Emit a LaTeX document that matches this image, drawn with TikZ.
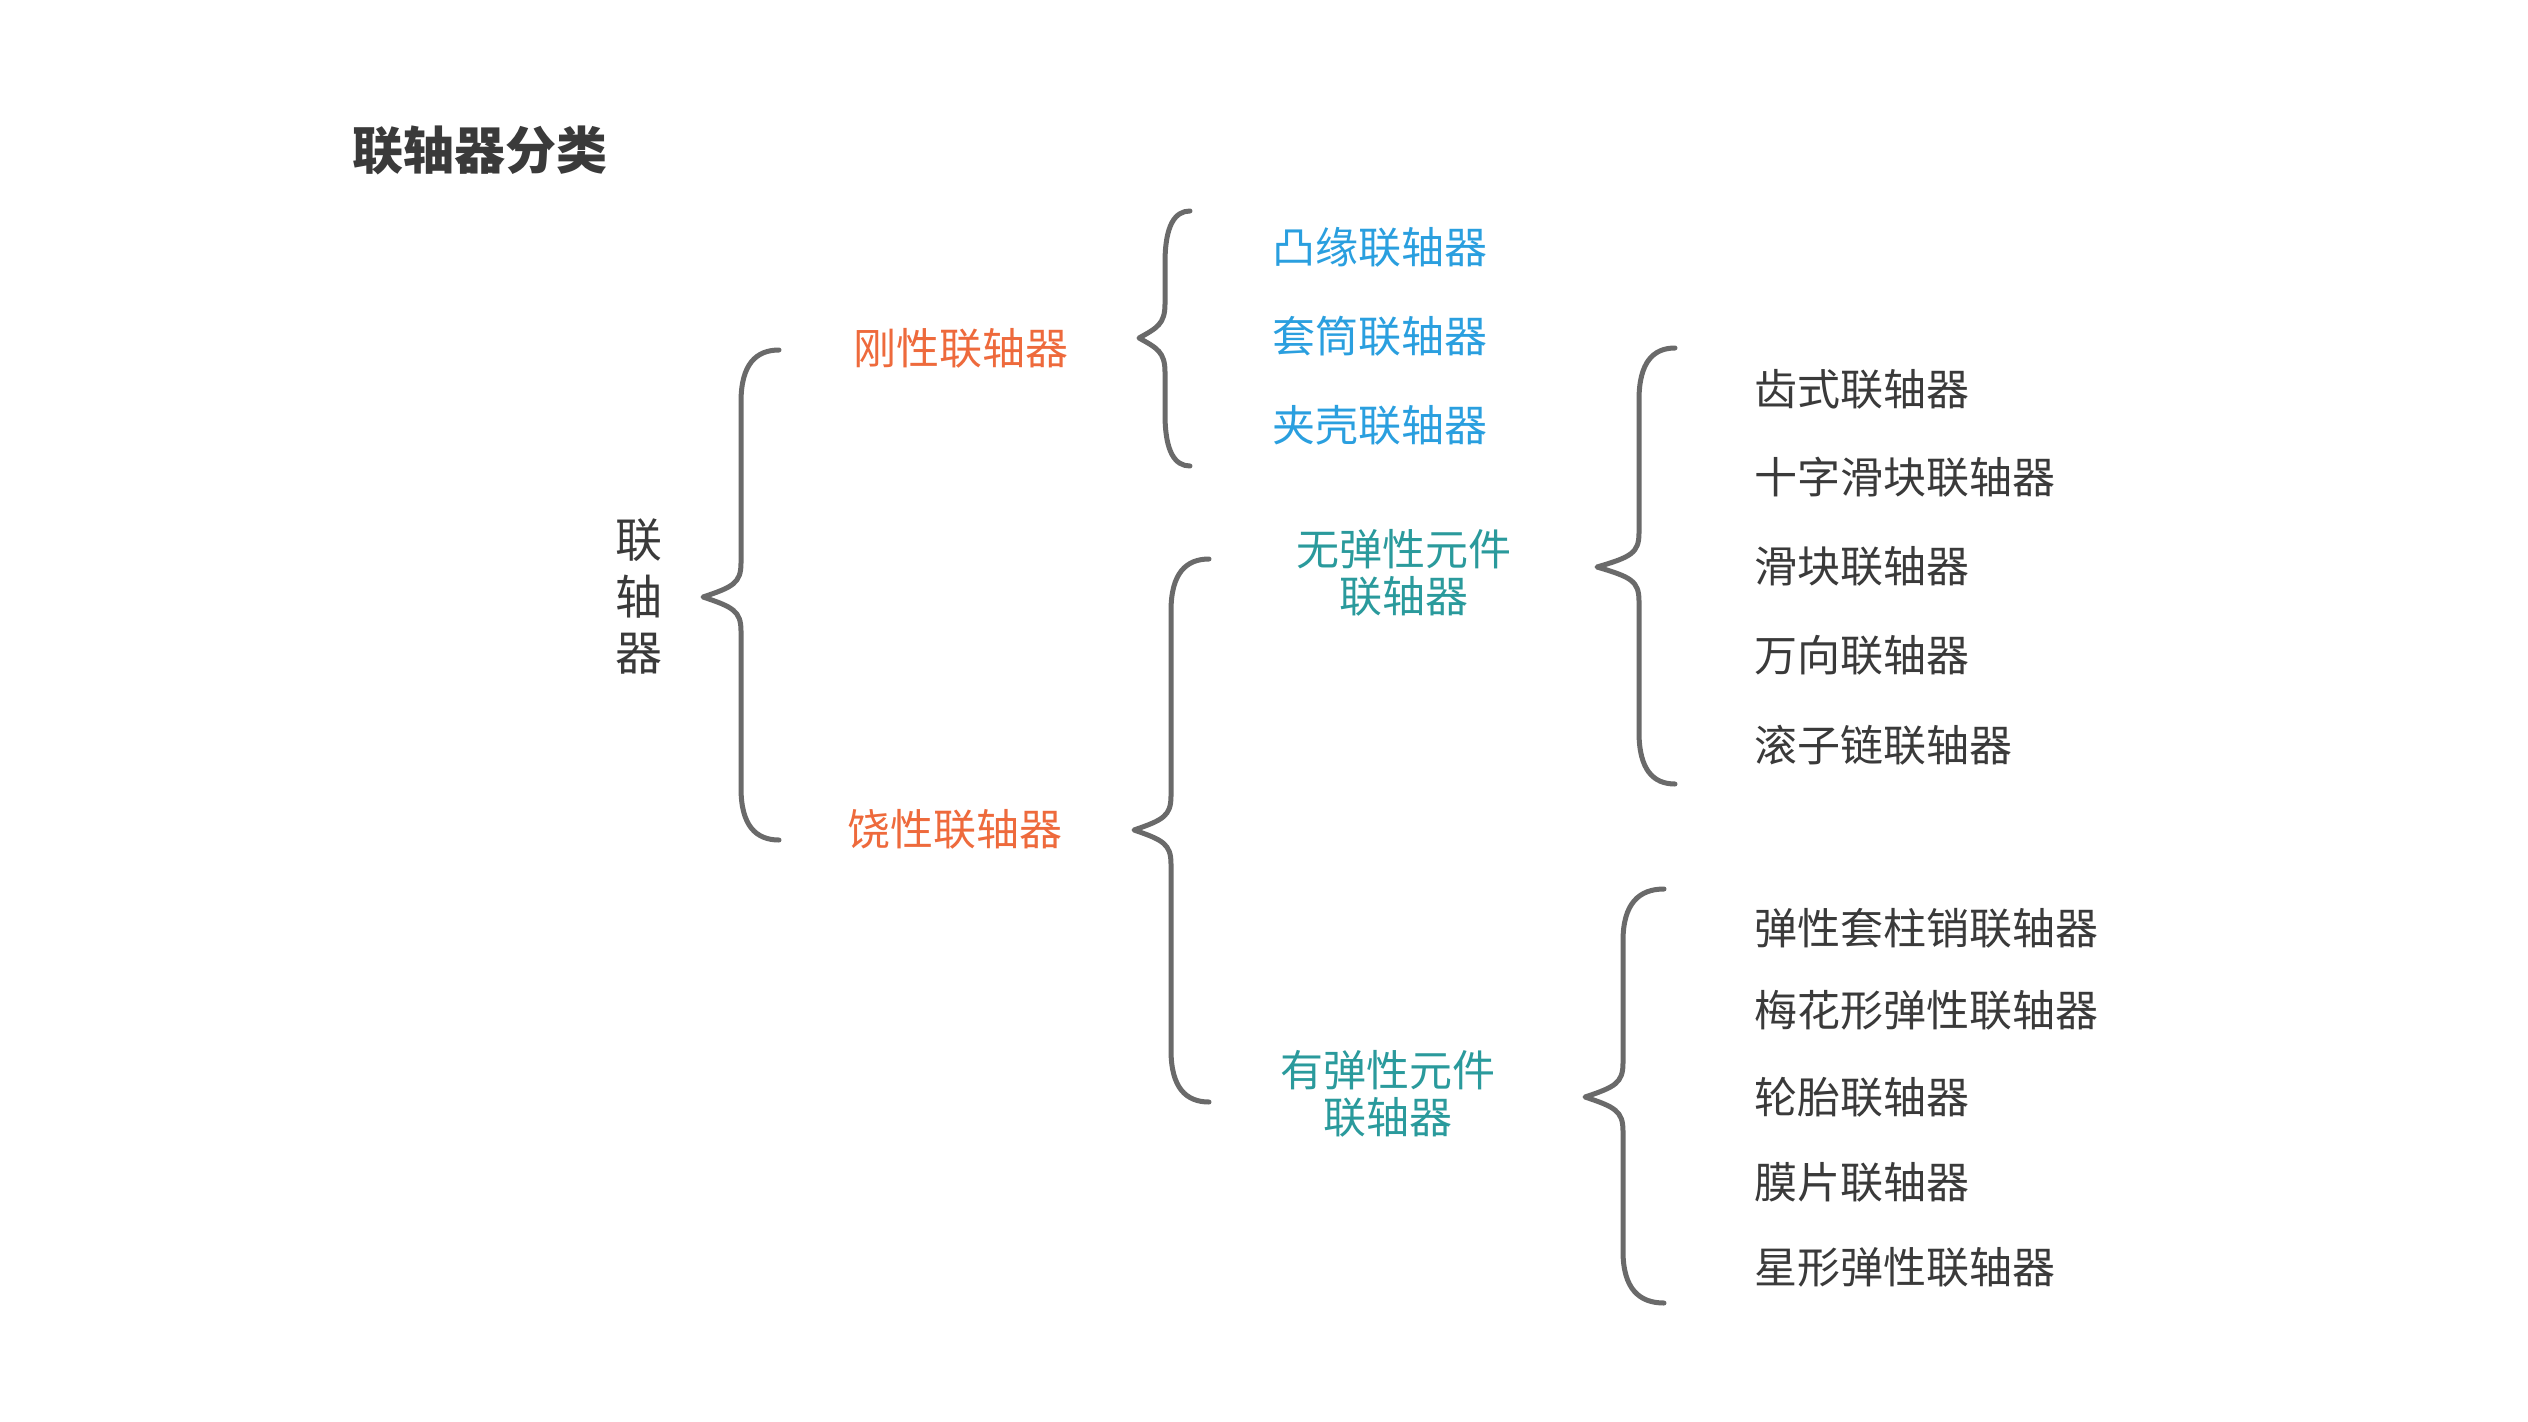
\documentclass[tikz,border=0pt]{standalone}
\usepackage{fontspec}
\setmainfont{Noto Sans CJK SC}
\definecolor{txtdark}{HTML}{3A3A3A}
\definecolor{rigidc}{HTML}{EE6A3C}
\definecolor{bluec}{HTML}{2A9FDF}
\definecolor{tealc}{HTML}{2A9A9C}
\definecolor{bracec}{HTML}{6A6A6A}
\newcommand\drawbrace[6]{%
  \draw[bracestyle] (#1,#4) .. controls ({#2+0.4*(#1-#2)},#4) and (#2,#4+14) .. (#2,#4+52)
    -- (#2,#5-34) .. controls (#2,#5-14) and ({#2-8},#5-10) .. (#3,#5)
    .. controls ({#2-8},#5+10) and (#2,#5+14) .. (#2,#5+34)
    -- (#2,#6-52) .. controls (#2,#6-14) and ({#2+0.4*(#1-#2)},#6) .. (#1,#6);}
\begin{document}
\begin{tikzpicture}[x=1pt,y=-1pt,
  bracestyle/.style={draw=bracec,line width=5pt,line cap=round,line join=round},
  base/.style={inner sep=0pt,outer sep=0pt},
  titlestyle/.style={base,text=txtdark,font=\fontsize{51}{56}\selectfont\bfseries},
  rootstyle/.style={base,text=txtdark,align=center,font=\fontsize{47}{56.5}\selectfont},
  lvlone/.style={base,text=rigidc,font=\fontsize{43}{46}\selectfont},
  lvlblue/.style={base,text=bluec,font=\fontsize{43}{46}\selectfont},
  lvlteal/.style={base,text=tealc,align=center,font=\fontsize{43}{46.5}\selectfont},
  leafstyle/.style={base,text=txtdark,anchor=west,font=\fontsize{43}{46}\selectfont}]
\useasboundingbox[fill=white] (0,0) rectangle (2528,1422);

\node[titlestyle,anchor=west] (title) at (352,150) {联轴器分类};

\node[rootstyle] (root) at (639,597) {联\\轴\\器};

% main brace
\drawbrace{779}{741}{703}{350}{597}{840}
\node[lvlone] (rigid) at (961,348) {刚性联轴器};
\node[lvlone] (flex) at (955,829) {饶性联轴器};

% rigid brace
\drawbrace{1190}{1165}{1139}{211}{338}{466}
\node[lvlblue] (r1) at (1380,247) {凸缘联轴器};
\node[lvlblue] (r2) at (1380,336) {套筒联轴器};
\node[lvlblue] (r3) at (1380,425) {夹壳联轴器};

% flexible brace
\drawbrace{1209}{1171}{1134}{559}{830}{1102}
\node[lvlteal] (f1) at (1404,573) {无弹性元件\\联轴器};
\node[lvlteal] (f2) at (1388,1094) {有弹性元件\\联轴器};

% no elastic element brace
\drawbrace{1675}{1639}{1597}{348}{567}{784}
\node[leafstyle] (a1) at (1754,389) {齿式联轴器};
\node[leafstyle] (a2) at (1754,477) {十字滑块联轴器};
\node[leafstyle] (a3) at (1754,566) {滑块联轴器};
\node[leafstyle] (a4) at (1754,655) {万向联轴器};
\node[leafstyle] (a5) at (1754,745) {滚子链联轴器};

% elastic element brace
\drawbrace{1664}{1623}{1585}{889}{1097}{1303}
\node[leafstyle] (b1) at (1754,928) {弹性套柱销联轴器};
\node[leafstyle] (b2) at (1754,1010) {梅花形弹性联轴器};
\node[leafstyle] (b3) at (1754,1097) {轮胎联轴器};
\node[leafstyle] (b4) at (1754,1182) {膜片联轴器};
\node[leafstyle] (b5) at (1754,1267) {星形弹性联轴器};
\end{tikzpicture}
\end{document}
